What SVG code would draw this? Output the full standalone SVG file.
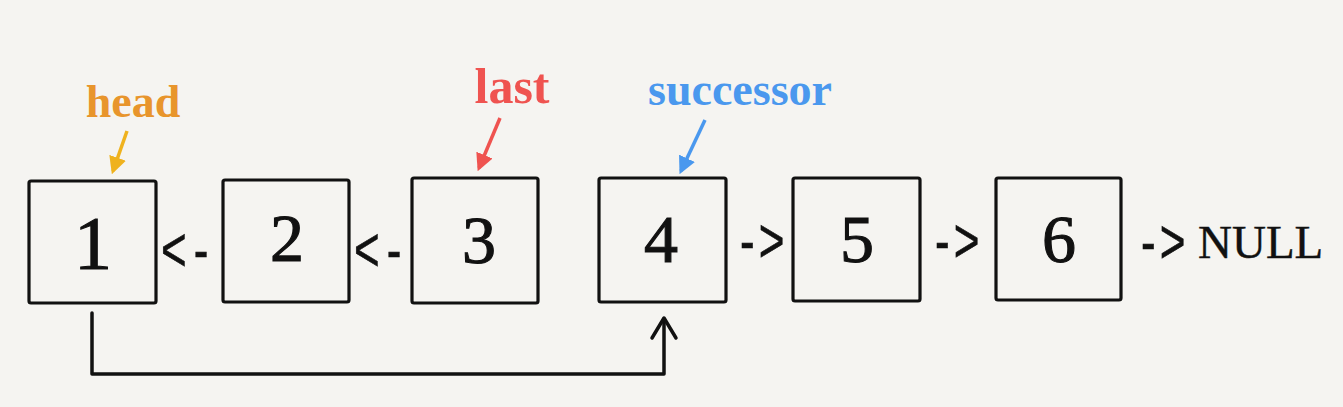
<svg xmlns="http://www.w3.org/2000/svg" width="1343" height="407" viewBox="0 0 1343 407">
<style>
.box{fill:none;stroke:#111;stroke-width:3.2;}
.num{font-family:"Liberation Serif",serif;font-size:68px;fill:#111;stroke:#111;stroke-width:1.1;text-anchor:middle;}
.op{font-family:"Liberation Sans",sans-serif;font-size:44px;fill:#111;stroke:#111;stroke-width:0.4;letter-spacing:4px;}
.op.l{letter-spacing:7px;}
.nul{font-family:"Liberation Serif",serif;font-size:47px;fill:#111;stroke:#111;stroke-width:0.4;}
.lbl{font-family:"Liberation Serif",serif;font-size:46px;font-weight:bold;text-anchor:middle;}
.conn{fill:none;stroke:#111;stroke-width:3.5;stroke-linejoin:round;stroke-linecap:round;}
</style>
<defs>
<marker id="ah" viewBox="0 0 10 10" refX="8" refY="5" markerWidth="5" markerHeight="5" orient="auto-start-reverse">
<path d="M0,0 L10,5 L0,10 z" fill="context-stroke"/>
</marker>
</defs>
<rect width="1343" height="407" fill="#f5f4f1"/>
<g id="node1"><rect class="box" x="29" y="181" width="127" height="122" rx="2"/><text class="num" x="93" y="269" style="font-size:76px">1</text></g>
<g id="node2"><rect class="box" x="223" y="180" width="126" height="122" rx="2"/><text class="num" x="287" y="261">2</text></g>
<g id="node3"><rect class="box" x="412" y="178" width="126" height="125" rx="2"/><text class="num" x="479" y="263">3</text></g>
<g id="node4"><rect class="box" x="599" y="178" width="127" height="124" rx="2"/><text class="num" x="661" y="262">4</text></g>
<g id="node5"><rect class="box" x="793" y="178" width="127" height="123" rx="2"/><text class="num" x="857" y="262">5</text></g>
<g id="node6"><rect class="box" x="996" y="178" width="125" height="122" rx="2"/><text class="num" x="1059" y="262">6</text></g>
<g id="null">
<text class="op" transform="translate(1141,263) scale(1,1.45)">-&gt;</text>
<text class="nul" x="1198" y="258">NULL</text>
</g>
<g id="labels">
<text class="lbl" x="133" y="117" fill="#e8952c">head</text>
<text class="lbl" x="512" y="103" fill="#ef5350" style="font-size:50px">last</text>
<text class="lbl" x="740" y="105" fill="#4a98ee">successor</text>
</g>
<g id="connectors">
<text class="op l" transform="translate(161,271) scale(1,1.45)">&lt;-</text>
<text class="op l" transform="translate(354,271) scale(1,1.45)">&lt;-</text>
<text class="op" transform="translate(740,262) scale(1,1.45)">-&gt;</text>
<text class="op" transform="translate(935,262) scale(1,1.45)">-&gt;</text>
<line x1="127" y1="131" x2="113" y2="171" stroke="#efb21e" stroke-width="3.5" marker-end="url(#ah)"/>
<line x1="500" y1="118" x2="479" y2="168" stroke="#ef5350" stroke-width="3.5" marker-end="url(#ah)"/>
<line x1="705" y1="120" x2="681" y2="171" stroke="#4a98ee" stroke-width="3.5" marker-end="url(#ah)"/>
<polyline class="conn" points="92,313 92,374 664,374 664,320"/>
<polyline class="conn" points="652,338 664,318 676,338"/>
</g>
</svg>
